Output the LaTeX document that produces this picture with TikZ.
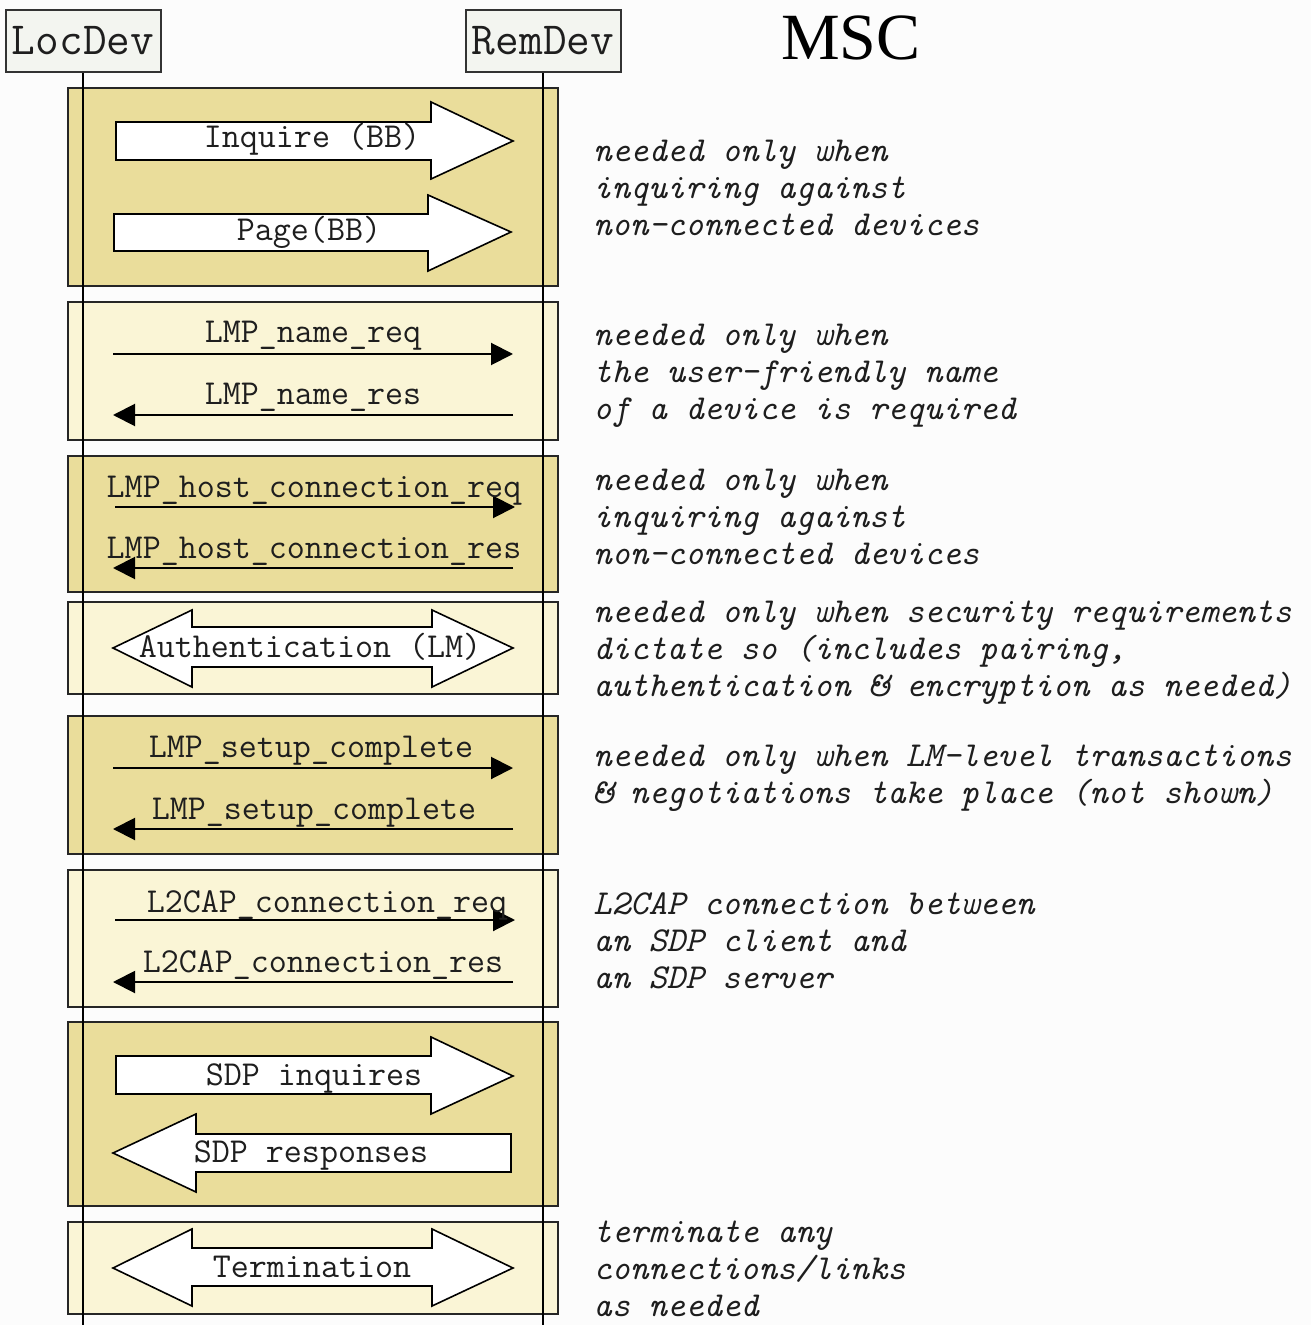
\documentclass[tikz,border=0pt]{standalone}
\usepackage{fontspec}
\newfontfamily\monofnt{Latin Modern Mono}
\newfontfamily\seriffnt{Liberation Serif}
\usetikzlibrary{arrows.meta}
\definecolor{darkbox}{RGB}{234,221,155}
\definecolor{lightbox}{RGB}{250,245,214}
\definecolor{headfill}{RGB}{243,245,240}
\definecolor{txt}{RGB}{30,30,30}
\newcommand\RightBlockArrow[8]{% x0,yt,yb,xh,ht,hb,tip,ymid
  \draw[blockarrow] (#1,#2) -- (#4,#2) -- (#4,#5) -- (#7,#8) -- (#4,#6) -- (#4,#3) -- (#1,#3) -- cycle;}
\begin{document}
\begin{tikzpicture}[x=0.5pt,y=-0.5pt,
  phase/.style={draw=black!85, line width=1pt},
  lifeline/.style={draw=black, line width=1pt},
  msg/.style={draw=black, line width=1pt, -{Triangle[length=11pt,width=11pt]}},
  blockarrow/.style={draw=black, fill=white, line width=0.8pt, line join=miter},
  lbl/.style={font=\monofnt\fontsize{17.5}{20}\selectfont, text=txt, inner sep=0pt, anchor=base},
  note/.style={font=\monofnt\itshape\fontsize{17.5}{20}\selectfont, text=txt, inner sep=0pt, anchor=base west},
  header/.style={draw=black!80, line width=1pt, fill=headfill, minimum width=77.5pt, minimum height=31pt, inner sep=0pt, font=\monofnt\fontsize{23}{26}\selectfont, text=txt}]
\fill[white!98!gray] (0,0) rectangle (1311,1325);
\useasboundingbox (0,0) rectangle (1311,1325);

% phase boxes
\draw[phase, fill=darkbox]  (68,88)   rectangle (558,286);
\draw[phase, fill=lightbox] (68,302)  rectangle (558,440);
\draw[phase, fill=darkbox]  (68,456)  rectangle (558,592);
\draw[phase, fill=lightbox] (68,602)  rectangle (558,694);
\draw[phase, fill=darkbox]  (68,716)  rectangle (558,854);
\draw[phase, fill=lightbox] (68,870)  rectangle (558,1007);
\draw[phase, fill=darkbox]  (68,1022) rectangle (558,1206);
\draw[phase, fill=lightbox] (68,1222) rectangle (558,1314);

% headers and lifelines
\node[header] (loc) at (83,41) {LocDev};
\node[header] (rem) at (543,41) {RemDev};
\coordinate (locend) at (83,1325);
\coordinate (remend) at (543,1325);
\draw[lifeline] (loc.south) -- (locend);
\draw[lifeline] (rem.south) -- (remend);

\node[font=\seriffnt\fontsize{33}{36}\selectfont, anchor=base, inner sep=0pt] (msc) at (851,60) {MSC};

% block arrows
\RightBlockArrow{116}{122}{160}{431}{102}{179}{513}{141}
\node[lbl] (inq) at (312,148) {Inquire (BB)};
\RightBlockArrow{114}{214}{251}{428}{195}{271}{511}{232}
\node[lbl] (page) at (309,241) {Page(BB)};

% LMP name
\coordinate (n1a) at (113,354); \coordinate (n1b) at (513,354);
\draw[msg] (n1a) -- (n1b);
\node[lbl] (nreq) at (313,343) {LMP\_name\_req};
\coordinate (n2a) at (513,415); \coordinate (n2b) at (113,415);
\draw[msg] (n2a) -- (n2b);
\node[lbl] (nres) at (313,405) {LMP\_name\_res};

% host connection
\coordinate (h1a) at (115,507); \coordinate (h1b) at (515,507);
\draw[msg] (h1a) -- (h1b);
\node[lbl] (hreq) at (314,497) {LMP\_host\_connection\_req};
\coordinate (h2a) at (513,568); \coordinate (h2b) at (113,568);
\draw[msg] (h2a) -- (h2b);
\node[lbl] (hres) at (314,558) {LMP\_host\_connection\_res};

% authentication
\draw[blockarrow] (113,648) -- (192,610) -- (192,627) -- (432,627) -- (432,610) -- (513,648)
  -- (432,687) -- (432,667) -- (192,667) -- (192,687) -- cycle;
\node[lbl] (auth) at (310,657) {Authentication (LM)};

% setup complete
\coordinate (s1a) at (113,768); \coordinate (s1b) at (513,768);
\draw[msg] (s1a) -- (s1b);
\node[lbl] (sc1) at (311,757) {LMP\_setup\_complete};
\coordinate (s2a) at (513,829); \coordinate (s2b) at (113,829);
\draw[msg] (s2a) -- (s2b);
\node[lbl] (sc2) at (314,819) {LMP\_setup\_complete};

% L2CAP
\coordinate (l1a) at (115,920); \coordinate (l1b) at (515,920);
\draw[msg] (l1a) -- (l1b);
\node[lbl] (lreq) at (327,912) {L2CAP\_connection\_req};
\coordinate (l2a) at (513,982); \coordinate (l2b) at (113,982);
\draw[msg] (l2a) -- (l2b);
\node[lbl] (lres) at (323,972) {L2CAP\_connection\_res};

% SDP
\RightBlockArrow{116}{1056}{1094}{431}{1037}{1114}{513}{1076}
\node[lbl] (sdpi) at (314,1085) {SDP inquires};
\draw[blockarrow] (113,1153) -- (196,1114) -- (196,1134) -- (511,1134) -- (511,1172) -- (196,1172) -- (196,1192) -- cycle;
\node[lbl] (sdpr) at (311,1162) {SDP responses};

% termination
\draw[blockarrow] (113,1268) -- (192,1229) -- (192,1248) -- (432,1248) -- (432,1229) -- (513,1268)
  -- (432,1306) -- (432,1286) -- (192,1286) -- (192,1306) -- cycle;
\node[lbl] (term) at (312,1277) {Termination};

% annotations
\node[note] (a11) at (593,162) {needed only when};
\node[note] (a12) at (593,199) {inquiring against};
\node[note] (a13) at (593,236) {non-connected devices};
\node[note] (a21) at (593,346) {needed only when};
\node[note] (a22) at (593,383) {the user-friendly name};
\node[note] (a23) at (593,420) {of a device is required};
\node[note] (a31) at (593,490) {needed only when};
\node[note] (a32) at (593,527) {inquiring against};
\node[note] (a33) at (593,564) {non-connected devices};
\node[note] (a41) at (593,622) {needed only when security requirements};
\node[note] (a42) at (593,659) {dictate so (includes pairing,};
\node[note] (a43) at (593,696) {authentication \& encryption as needed)};
\node[note] (a51) at (593,766) {needed only when LM-level transactions};
\node[note] (a52) at (593,803) {\& negotiations take place (not shown)};
\node[note] (a61) at (593,914) {L2CAP connection between};
\node[note] (a62) at (593,951) {an SDP client and};
\node[note] (a63) at (593,988) {an SDP server};
\node[note] (a71) at (593,1242) {terminate any};
\node[note] (a72) at (593,1279) {connections/links};
\node[note] (a73) at (593,1316) {as needed};
\end{tikzpicture}
\end{document}
